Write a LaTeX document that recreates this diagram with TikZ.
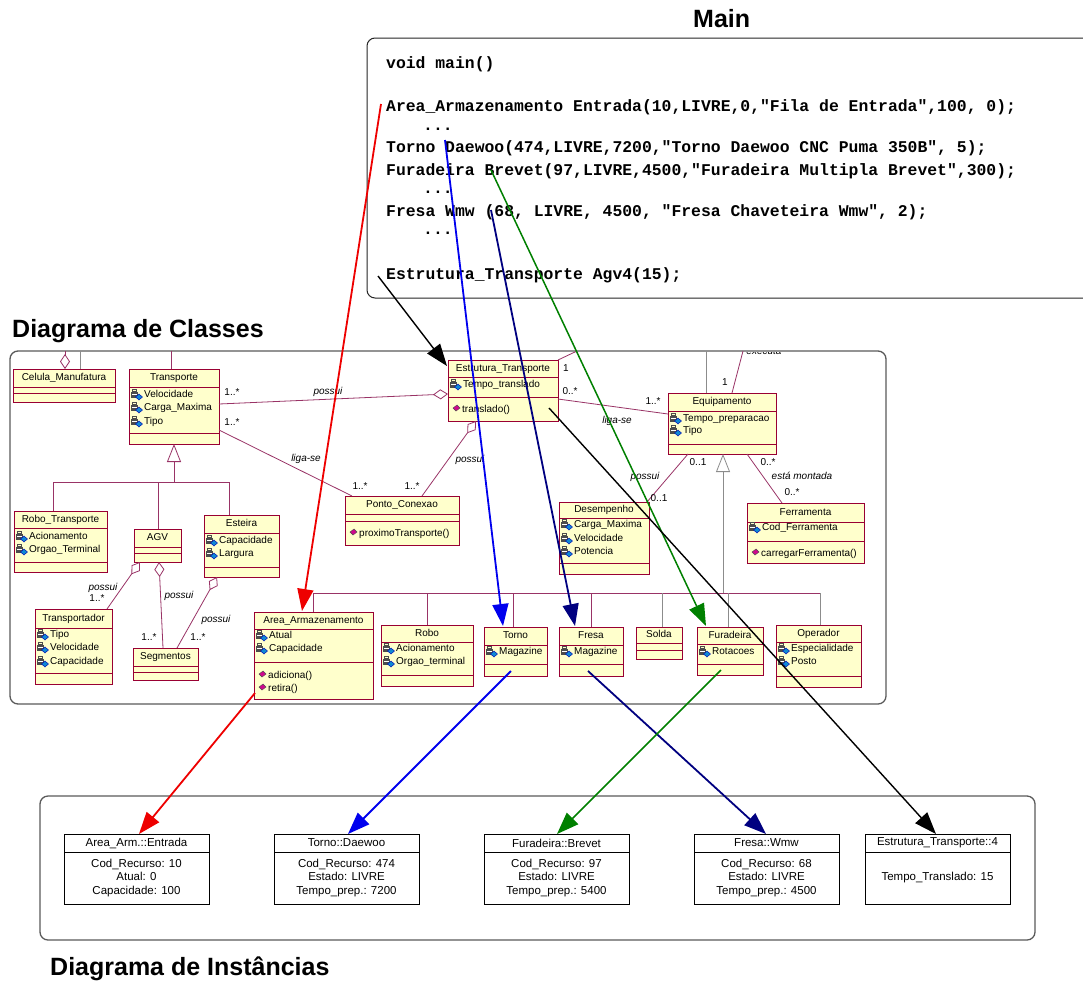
\documentclass[tikz,border=0pt]{standalone}
\usepackage{fontspec}
\setmainfont{Liberation Sans}
\setmonofont{Liberation Mono}
\usetikzlibrary{arrows.meta,fit}

\definecolor{umlline}{HTML}{993366}
\definecolor{umlborder}{HTML}{990033}
\definecolor{umlfill}{HTML}{FFFFCC}
\definecolor{framegray}{HTML}{5A5A5A}
\definecolor{tracered}{HTML}{EE0000}
\definecolor{traceblue}{HTML}{0000EE}
\definecolor{tracenavy}{HTML}{000080}
\definecolor{tracegreen}{HTML}{008000}

\newcounter{txtno}

% class box: name, x1, y1, x2, y2, y of title rule, y of attribute rule, title
\newcommand\umlclass[8]{%
  \node[classbox, fit={(#2,#3) (#4,#5)}] (#1) {};
  \draw[classrule] (#2,#6) -- (#4,#6) (#2,#7) -- (#4,#7);
  \node[clsname] (#1-title) at ({(#2+#4)/2},{(#3+#6)/2}) {#8};
}
% attribute row: left edge of class, y, text
\newcommand\attrline[3]{%
  \stepcounter{txtno}%
  \pic at ({#1+8},#2) {attricon};
  \node[member] (mem\arabic{txtno}) at ({#1+15},#2) {#3};
}
% operation row: left edge of class, y, text
\newcommand\opline[3]{%
  \stepcounter{txtno}%
  \pic at ({#1+9},{#2-1}) {opicon};
  \node[member] (mem\arabic{txtno}) at ({#1+14},#2) {#3};
}
% object box of the instance diagram: name, x1, title, body
\newcommand\instbox[4]{%
  \node[objbox, fit={(#2,834) ({#2+145},904)}] (#1) {};
  \draw[objrule] (#2,852) -- ({#2+145},852);
  \node[objtxt] (#1-title) at ({#2+72.5},843) {#3};
  \node[objtxt, align=center] (#1-body) at ({#2+72.5},878) {#4};
}

\tikzset{
  classbox/.style={draw=umlborder, fill=umlfill, line width=0.9pt, inner sep=0pt, outer sep=0pt},
  classrule/.style={draw=umlborder, line width=0.9pt},
  clsname/.style={font=\fontsize{10}{12}\selectfont, inner sep=0pt, text height=7.2pt, text depth=2pt},
  member/.style={font=\fontsize{10}{12}\selectfont, inner sep=0pt, anchor=west, text height=7.2pt, text depth=2pt},
  mult/.style={font=\fontsize{10}{12}\selectfont, inner sep=0pt, text height=7.2pt, text depth=2pt},
  role/.style={font=\itshape\fontsize{10}{12}\selectfont, inner sep=0pt, text height=7.2pt, text depth=2pt},
  assoc/.style={draw=umlline, line width=0.8pt},
  assocgray/.style={draw=black!45, line width=0.8pt},
  agg/.style={assoc, {Diamond[open, length=15pt, width=10pt]}-},
  gen/.style={-{Triangle[open, length=18pt, width=14pt]}},
  objbox/.style={draw=black, fill=white, line width=0.9pt, inner sep=0pt, outer sep=0pt},
  objrule/.style={draw=black, line width=0.9pt},
  objtxt/.style={font=\fontsize{11.5}{13.5}\selectfont, inner sep=0pt},
  heading/.style={font=\bfseries\fontsize{25}{28}\selectfont, inner sep=0pt, anchor=base west},
  code/.style={font=\ttfamily\bfseries\fontsize{16.4}{18}\selectfont, inner sep=0pt, anchor=base west},
  frame/.style={draw=framegray, line width=1.3pt, rounded corners=8pt, inner sep=0pt, outer sep=0pt},
  trace/.style={line width=1.8pt, -{Triangle[length=22pt, width=16pt]}},
  attricon/.pic={
    \fill[black!70] (-6,-3.5) rectangle (1,3);
    \draw[black!70, line width=0.8pt] (-4.5,-3.5) rectangle (-1,-5.5);
    \fill[white] (-5,-1.5) rectangle (0,-0.8);
    \filldraw[fill=cyan!70!blue, draw=blue!70!black, line width=0.4pt]
      (-1.5,2) -- (2,-1) -- (5.5,2) -- (2,5) -- cycle;
  },
  opicon/.pic={
    \filldraw[fill=magenta!85!blue, draw=black!70, line width=0.4pt]
      (-4,-1) -- (0,-4) -- (3,-1) -- (-1,2) -- cycle;
  }
}

\begin{document}
\begin{tikzpicture}[x=1pt, y=-1pt]
\clip (0,0) rectangle (1083,980);
\fill[white] (0,0) rectangle (1083,980);

% ---------- headings ----------
\node[heading] (h-main) at (693,27) {Main};
\node[heading] (h-classes) at (12,337) {Diagrama de Classes};
\node[heading] (h-inst) at (50,975) {Diagrama de Instâncias};

% ---------- program listing ----------
\node[draw=black!85, line width=1pt, rounded corners=8pt, inner sep=0pt, fit={(367,38) (1100,298)}] (mainbox) {};
\node[code] (code1) at (386,68) {void main()};
\node[code] (code2) at (386,111) {Area\_Armazenamento Entrada(10,LIVRE,0,"Fila de Entrada",100, 0);};
\node[code] (code3) at (423,130) {...};
\node[code] (code4) at (386,152) {Torno Daewoo(474,LIVRE,7200,"Torno Daewoo CNC Puma 350B", 5);};
\node[code] (code5) at (386,175) {Furadeira Brevet(97,LIVRE,4500,"Furadeira Multipla Brevet",300);};
\node[code] (code6) at (423,193) {...};
\node[code] (code7) at (386,216) {Fresa Wmw (68, LIVRE, 4500, "Fresa Chaveteira Wmw", 2);};
\node[code] (code8) at (423,234) {...};
\node[code] (code9) at (386,279) {Estrutura\_Transporte Agv4(15);};

\coordinate (c-area) at (381,104);
\coordinate (c-torno) at (445,140);
\coordinate (c-furad) at (491,170);
\coordinate (c-fresa) at (491,210);
\coordinate (c-estrut) at (378,276);

% ---------- frames ----------
\node[frame, fit={(10,351) (886,704)}] (classframe) {};
\node[frame, fit={(40,796) (1035,940)}] (instframe) {};

% ---------- classes ----------
\umlclass{celula}{13}{369}{115}{402}{387}{393}{Celula\_Manufatura}
\umlclass{transp}{129}{369}{219}{444}{387}{433}{Transporte}
\attrline{129}{395}{Velocidade}
\attrline{129}{408}{Carga\_Maxima}
\attrline{129}{422}{Tipo}

\umlclass{robot}{14}{511}{107}{572}{528}{562}{Robo\_Transporte}
\attrline{14}{537}{Acionamento}
\attrline{14}{550}{Orgao\_Terminal}

\umlclass{agv}{134}{529}{181}{562}{547}{553}{AGV}

\umlclass{esteira}{204}{515}{279}{577}{533}{567}{Esteira}
\attrline{204}{541}{Capacidade}
\attrline{204}{554}{Largura}

\umlclass{transpdr}{35}{609}{112}{684}{628}{673}{Transportador}
\attrline{35}{635}{Tipo}
\attrline{35}{648}{Velocidade}
\attrline{35}{662}{Capacidade}

\umlclass{segm}{133}{648}{198}{680}{666}{672}{Segmentos}

\umlclass{estrut}{448}{360}{558}{421}{377}{397}{Estrutura\_Transporte}
\attrline{448}{385}{Tempo\_translado}
\opline{448}{410}{translado()}

\umlclass{ponto}{345}{496}{459}{545}{514}{521}{Ponto\_Conexao}
\opline{345}{534}{proximoTransporte()}

\umlclass{equip}{668}{393}{776}{454}{411}{444}{Equipamento}
\attrline{668}{419}{Tempo\_preparacao}
\attrline{668}{431}{Tipo}

\umlclass{desemp}{559}{502}{649}{574}{518}{563}{Desempenho}
\attrline{559}{525}{Carga\_Maxima}
\attrline{559}{539}{Velocidade}
\attrline{559}{552}{Potencia}

\umlclass{ferram}{747}{503}{864}{563}{522}{541}{Ferramenta}
\attrline{747}{528}{Cod\_Ferramenta}
\opline{747}{554}{carregarFerramenta()}

\umlclass{area}{254}{612}{373}{699}{629}{662}{Area\_Armazenamento}
\attrline{254}{636}{Atual}
\attrline{254}{649}{Capacidade}
\opline{254}{676}{adiciona()}
\opline{254}{689}{retira()}

\umlclass{robo}{381}{625}{473}{686}{642}{675}{Robo}
\attrline{381}{649}{Acionamento}
\attrline{381}{662}{Orgao\_terminal}

\umlclass{torno}{484}{627}{547}{676}{645}{664}{Torno}
\attrline{484}{652}{Magazine}

\umlclass{fresa}{559}{627}{623}{676}{645}{664}{Fresa}
\attrline{559}{652}{Magazine}

\umlclass{solda}{636}{627}{682}{659}{643}{650}{Solda}

\umlclass{furad}{697}{627}{763}{675}{644}{664}{Furadeira}
\attrline{697}{652}{Rotacoes}

\umlclass{oper}{776}{625}{861}{687}{642}{676}{Operador}
\attrline{776}{649}{Especialidade}
\attrline{776}{662}{Posto}

% ---------- associations ----------
\coordinate (up-celula) at (65,351);
\coordinate (up-celula2) at (80,351);
\coordinate (up-transp) at (171,351);
\coordinate (up-estrut) at (577,351);
\coordinate (up-equip) at (743,351);
\coordinate (up-equip2) at (706,351);
\coordinate (bar-transp) at (174,482);
\coordinate (bar-transp-l) at (53,482);
\coordinate (bar-transp-r) at (229,482);
\coordinate (bar-equip) at (723,593);
\coordinate (bar-equip-l) at (313,593);
\coordinate (bar-equip-r) at (820,593);

\draw[agg] ([shift={(52,0)}]celula.north west) -- (up-celula);
\draw[assocgray] ([shift={(67,0)}]celula.north west) -- (up-celula2);
\draw[assoc] ([shift={(42,0)}]transp.north west) -- (up-transp);

\draw[assoc, -{Diamond[open, length=15pt, width=10pt]}] ([shift={(0,35)}]transp.north east) -- ([shift={(0,34)}]estrut.north west);
\draw[assoc] ([shift={(0,61)}]transp.north east) -- ([shift={(7,0)}]ponto.north west);
\draw[agg] ([shift={(28,0)}]estrut.south west) -- ([shift={(77,0)}]ponto.north west);
\draw[assoc] ([shift={(0,39)}]estrut.north east) -- ([shift={(0,21)}]equip.north west);
\draw[assoc] (estrut.north east) -- (up-estrut);
\draw[assoc] ([shift={(64,0)}]equip.north west) -- (up-equip);
\draw[assocgray] ([shift={(38,0)}]equip.north west) -- (up-equip2);
\draw[assoc] ([shift={(20,0)}]equip.south west) -- ([shift={(-2,0)}]desemp.north east);
\draw[assoc] ([shift={(79,0)}]equip.south west) -- ([shift={(35,0)}]ferram.north west);

% Transporte hierarchy
\draw[assoc, gen] (bar-transp) -- ([shift={(45,0)}]transp.south west);
\draw[assoc] (bar-transp-l) -- (bar-transp-r);
\draw[assoc] ([shift={(39,0)}]robot.north west) -- ([shift={(39,0)}]robot.north west |- bar-transp-l);
\draw[assoc] ([shift={(24,0)}]agv.north west) -- ([shift={(24,0)}]agv.north west |- bar-transp-l);
\draw[assoc] ([shift={(25,0)}]esteira.north west) -- ([shift={(25,0)}]esteira.north west |- bar-transp-l);

\draw[agg] ([shift={(6,0)}]agv.south west) -- ([shift={(-5,0)}]transpdr.north east);
\draw[agg] ([shift={(25,0)}]agv.south west) -- ([shift={(30,0)}]segm.north west);
\draw[agg] ([shift={(13,0)}]esteira.south west) -- ([shift={(44,0)}]segm.north west);

% Equipamento hierarchy
\draw[assocgray, gen] (bar-equip) -- ([shift={(55,0)}]equip.south west);
\draw[assoc] (bar-equip-l) -- (bar-equip-r);
\draw[assoc] ([shift={(59,0)}]area.north west) -- ([shift={(59,0)}]area.north west |- bar-equip-l);
\draw[assoc] ([shift={(46,0)}]robo.north west) -- ([shift={(46,0)}]robo.north west |- bar-equip-l);
\draw[assoc] ([shift={(29,0)}]torno.north west) -- ([shift={(29,0)}]torno.north west |- bar-equip-l);
\draw[assoc] ([shift={(32,0)}]fresa.north west) -- ([shift={(32,0)}]fresa.north west |- bar-equip-l);
\draw[assocgray] ([shift={(26,0)}]solda.north west) -- ([shift={(26,0)}]solda.north west |- bar-equip-l);
\draw[assocgray] ([shift={(31,0)}]furad.north west) -- ([shift={(31,0)}]furad.north west |- bar-equip-l);
\draw[assocgray] ([shift={(44,0)}]oper.north west) -- ([shift={(44,0)}]oper.north west |- bar-equip-l);

% ---------- association labels ----------
\node[mult] (m1) at (232,393) {1..*};
\node[mult] (m2) at (232,423) {1..*};
\node[role] (r1) at (328,392) {possui};
\node[role] (r2) at (306,459) {liga-se};
\node[mult] (m3) at (360,487) {1..*};
\node[mult] (m4) at (412,487) {1..*};
\node[role] (r3) at (470,460) {possui};
\node[mult] (m5) at (566,369) {1};
\node[mult] (m6) at (570,392) {0..*};
\node[mult] (m7) at (653,402) {1..*};
\node[role] (r4) at (617,421) {liga-se};
\node[mult] (m8) at (725,383) {1};
\begin{scope}
  \clip (735,352) rectangle (800,365);
  \node[role] (r-exec) at (764,352) {executa};
\end{scope}
\node[mult] (m9) at (698,463) {0..1};
\node[role] (r5) at (645,477) {possui};
\node[mult] (m10) at (659,499) {0..1};
\node[mult] (m11) at (768,463) {0..*};
\node[role] (r6) at (802,477) {está montada};
\node[mult] (m12) at (792,493) {0..*};
\node[role] (r7) at (103,588) {possui};
\node[mult] (m13) at (97,599) {1..*};
\node[role] (r8) at (179,596) {possui};
\node[mult] (m14) at (149,638) {1..*};
\node[role] (r9) at (216,620) {possui};
\node[mult] (m15) at (198,638) {1..*};

% ---------- instances ----------
\instbox{iarea}{64}{Area\_Arm.::Entrada}{Cod\_Recurso: 10\\Atual: 0\\Capacidade: 100}
\instbox{itorno}{274}{Torno::Daewoo}{Cod\_Recurso: 474\\Estado: LIVRE\\Tempo\_prep.: 7200}
\instbox{ifurad}{484}{Furadeira::Brevet}{Cod\_Recurso: 97\\Estado: LIVRE\\Tempo\_prep.: 5400}
\instbox{ifresa}{694}{Fresa::Wmw}{Cod\_Recurso: 68\\Estado: LIVRE\\Tempo\_prep.: 4500}
\instbox{iestrut}{865}{Estrutura\_Transporte::4}{Tempo\_Translado: 15}

% ---------- traces from program to classes and objects ----------
\draw[trace, tracered] (c-area) -- ([shift={(48,-1)}]area.north west);
\draw[trace, tracered] ([shift={(1,81)}]area.north west) -- ([shift={(75,0)}]iarea.north west);
\draw[trace, traceblue] (c-torno) -- ([shift={(19,-1)}]torno.north west);
\draw[trace, traceblue] ([shift={(27,44)}]torno.north west) -- ([shift={(74,0)}]itorno.north west);
\draw[trace, tracenavy] (c-fresa) -- ([shift={(16,-1)}]fresa.north west);
\draw[trace, tracenavy] ([shift={(29,44)}]fresa.north west) -- ([shift={(72,0)}]ifresa.north west);
\draw[trace, tracegreen, line width=1.5pt] (c-furad) -- ([shift={(9,-1)}]furad.north west);
\draw[trace, tracegreen, line width=1.5pt] ([shift={(24,43)}]furad.north west) -- ([shift={(73,0)}]ifurad.north west);
\draw[trace, black, line width=1.4pt] (c-estrut) -- ([shift={(-1,6)}]estrut.north west);
\draw[trace, black, line width=1.4pt] ([shift={(101,48)}]estrut.north west) -- ([shift={(71,0)}]iestrut.north west);
\end{tikzpicture}
\end{document}
